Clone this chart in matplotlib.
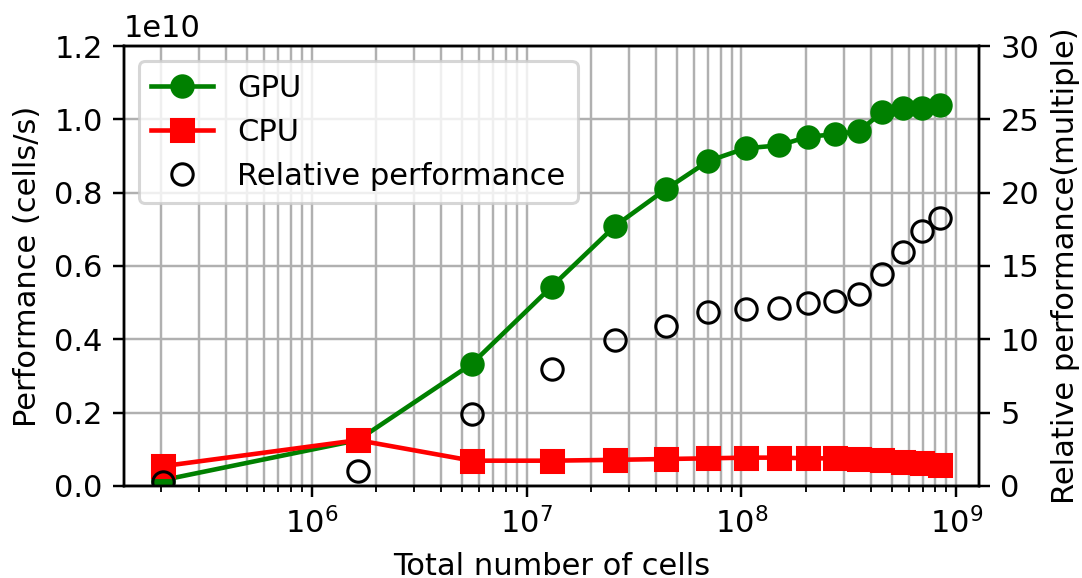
#!/usr/bin/env python3

##### Imports
import numpy as np
import matplotlib
matplotlib.use('Agg')
import matplotlib.pyplot as plt

##### Data
cells = [2.03e5, 1.64e6, 5.56e6, 1.31e7, 2.58e7, 4.44e7, 7.0e7, 1.045e8,
         1.50e8, 2.05e8, 2.72e8, 3.52e8, 4.51e8, 5.64e8, 6.94e8, 8.41e8]
gpu_perf = [0.016, 0.125, 0.333, 0.544, 0.709, 0.809, 0.886, 0.921,
            0.929, 0.953, 0.959, 0.968, 1.019, 1.030, 1.030, 1.039]  # x1e10
cpu_perf = [0.054, 0.125, 0.069, 0.069, 0.0713, 0.0736, 0.0754, 0.0773,
            0.0773, 0.0754, 0.0754, 0.0727, 0.070, 0.0664, 0.062, 0.0573]  # x1e10
rel_perf = [0.3, 1.02, 4.89, 7.95, 9.95, 10.93, 11.84, 12.09,
            12.16, 12.5, 12.61, 13.11, 14.48, 15.93, 17.36, 18.25]

gpu_perf = np.array(gpu_perf) * 1e10
cpu_perf = np.array(cpu_perf) * 1e10

##### Plotting
DPI = 220
fig, ax = plt.subplots(figsize=(1082 / DPI, 578 / DPI), dpi=DPI)
fig.subplots_adjust(left=0.1146, right=0.9048, bottom=0.1592, top=0.9204)

l1, = ax.plot(cells, gpu_perf, color='green', marker='o', markersize=7,
              label='GPU')
l2, = ax.plot(cells, cpu_perf, color='red', marker='s', markersize=7,
              label='CPU')
ax.set_xscale('log')
ax.set_ylim(0, 1.2e10)
ax.set_xlabel('Total number of cells')
ax.set_ylabel('Performance (cells/s)')
ax.grid(True, which='major', axis='both')
ax.grid(True, which='minor', axis='x')

ax2 = ax.twinx()
l3, = ax2.plot(cells, rel_perf, linestyle='none', marker='o', markersize=7,
               markerfacecolor='none', markeredgecolor='black',
               label='Relative performance')
ax2.set_ylim(0, 30)
ax2.set_ylabel('Relative performance(multiple)')

ax2.legend(handles=[l1, l2, l3], loc='upper left')

plt.savefig('out.png')
plt.close()
